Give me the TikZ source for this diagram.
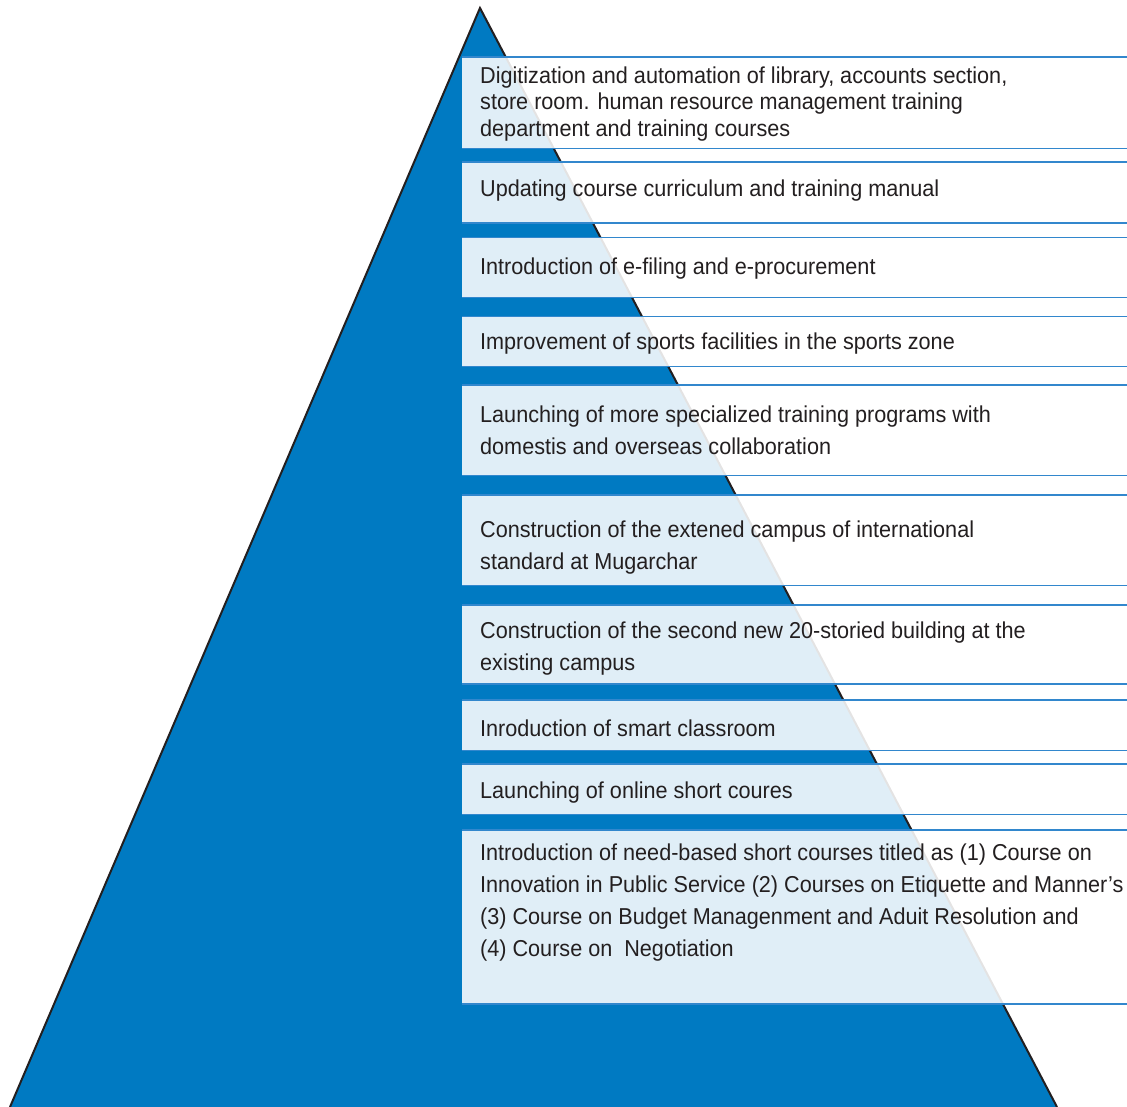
\documentclass[tikz,border=0pt]{standalone}
\usepackage{fontspec}
\newfontfamily\labelfont[FakeStretch=0.94]{Liberation Sans}
\definecolor{triblue}{RGB}{0,122,194}
\definecolor{rulecol}{RGB}{50,135,205}
\definecolor{ink}{RGB}{35,31,32}
\begin{document}
\begin{tikzpicture}[x=1pt,y=-1pt,
  txt/.style={anchor=base west, inner sep=0pt, font=\labelfont\fontsize{23}{32}\selectfont, text=ink},
  band/.style={fill=white, fill opacity=0.88, draw=none, inner sep=0pt, anchor=north west, minimum width=665pt},
  rulel/.style={draw=rulecol, line width=1.4pt}]
\useasboundingbox (0,0) rectangle (1127,1107);
\coordinate (apex) at (480,8);
\coordinate (bl) at (10,1107);
\coordinate (br) at (1057,1107);
\fill[triblue] (bl) -- (apex) -- (br) -- cycle;
\draw[ink, line width=2pt, line join=miter] (bl) -- (apex) -- (br);
\foreach \n/\t/\b in {1/57/148, 2/162/222.5, 3/237.5/297, 4/316.5/366, 5/385/475, 6/495/585, 7/605/683.5, 8/700/750, 9/764/814, 10/830/1003.5}{
  \pgfmathsetmacro\hh{\b-\t}
  \node[band, minimum height=\hh pt] (b\n) at (462,\t) {};
  \draw[rulel] (b\n.north west) -- (b\n.north east);
  \draw[rulel] (b\n.south west) -- (b\n.south east);
}
\node[txt] (t1a) at (480,83.5) {Digitization and automation of library, accounts section,};
\node[txt] (t1b) at (480,110) {store room. human resource management training};
\node[txt] (t1c) at (480,136.5) {department and training courses};
\node[txt] (t2) at (480,197) {Updating course curriculum and training manual};
\node[txt] (t3) at (480,275) {Introduction of e-filing and e-procurement};
\node[txt] (t4) at (480,349) {Improvement of sports facilities in the sports zone};
\node[txt] (t5a) at (480,422) {Launching of more specialized training programs with};
\node[txt] (t5b) at (480,454) {domestis and overseas collaboration};
\node[txt] (t6a) at (480,537) {Construction of the extened campus of international};
\node[txt] (t6b) at (480,569) {standard at Mugarchar};
\node[txt] (t7a) at (480,638.5) {Construction of the second new 20-storied building at the};
\node[txt] (t7b) at (480,670.5) {existing campus};
\node[txt] (t8) at (480,736.5) {Inroduction of smart classroom};
\node[txt] (t9) at (480,798.5) {Launching of online short coures};
\node[txt] (t10a) at (480,860) {Introduction of need-based short courses titled as (1) Course on};
\node[txt] (t10b) at (480,892) {Innovation in Public Service (2) Courses on Etiquette and Manner’s};
\node[txt] (t10c) at (480,924) {(3) Course on Budget Managenment and Aduit Resolution and};
\node[txt] (t10d) at (480,956) {(4) Course on~ Negotiation};
\end{tikzpicture}
\end{document}
